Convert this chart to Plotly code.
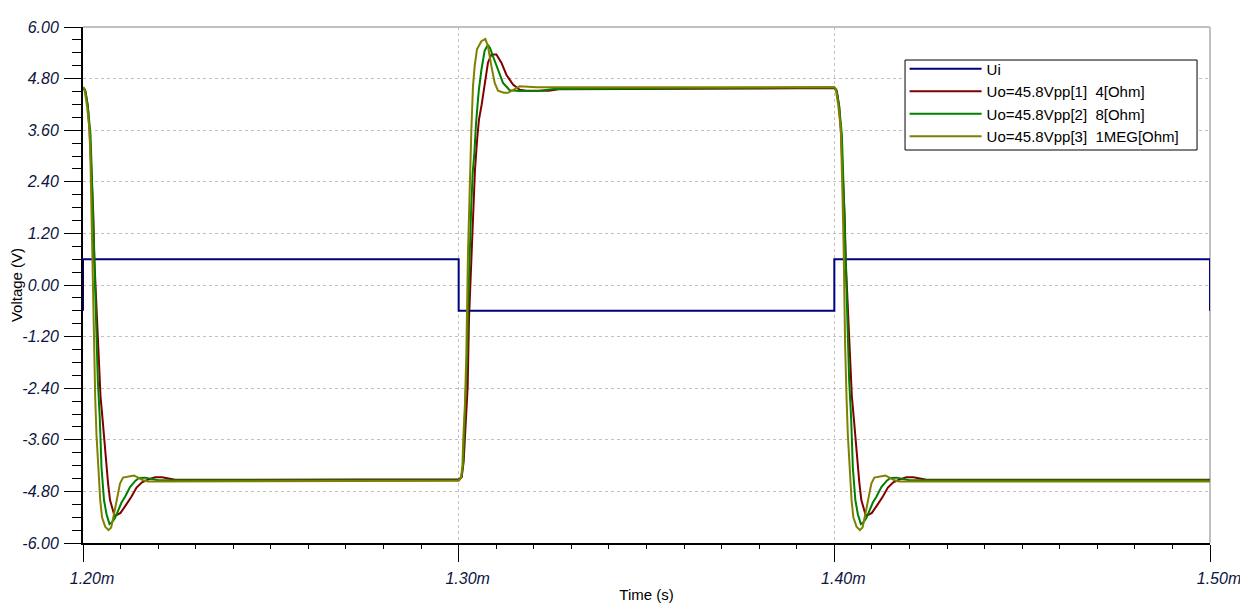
import plotly.graph_objects as go

# time axis in ms, edges of the input square wave
edge_fall_1 = 1.2
edge_rise = 1.3
edge_fall_2 = 1.4
t_end = 1.5

# input signal
ui_t = [1.2, 1.2, 1.3, 1.3, 1.4, 1.4, 1.5, 1.5]
ui_v = [-0.6, 0.6, 0.6, -0.6, -0.6, 0.6, 0.6, -0.6]

# output responses, time offsets in us after each edge
# [1] 4 Ohm (red)
r_fall_us = [0, 0.67, 1.28, 1.73, 2.18, 2.72, 3.06, 3.60, 4.13, 4.66, 5.19, 5.99, 6.66,
             7.19, 7.86, 8.39, 9.19, 9.99, 11.32, 12.92, 14.25, 15.71, 17.44, 19.17,
             21.04, 22.90, 24.50]
r_fall_v = [4.58, 4.50, 4.16, 3.60, 2.76, 1.67, 0.51, -0.65, -1.82, -2.59, -3.10, -3.95,
            -4.60, -5.00, -5.20, -5.37, -5.34, -5.30, -5.13, -4.92, -4.71, -4.59, -4.52,
            -4.47, -4.47, -4.51, -4.53]
r_rise_us = [0, 0.80, 1.33, 1.73, 2.13, 2.40, 2.74, 3.28, 3.81, 4.34, 4.93, 5.41, 6.13,
             6.92, 7.80, 8.71, 10.04, 11.37, 12.70, 14.46, 16.24, 18.03, 23.97, 26.63]
r_rise_v = [-4.52, -4.47, -4.10, -3.50, -2.80, -2.36, -0.81, 0.36, 1.52, 2.68, 3.40, 3.85,
            4.20, 4.62, 5.17, 5.36, 5.36, 5.17, 4.89, 4.66, 4.54, 4.52, 4.52, 4.55]

# [2] 8 Ohm (green)
g_fall_us = [0, 0.53, 1.28, 2.00, 2.34, 2.61, 2.88, 3.14, 3.41, 3.94, 4.47, 4.93, 5.59,
             6.26, 7.06, 7.72, 8.52, 9.45, 10.25, 11.24, 12.52, 13.98, 14.91, 16.51,
             18.64, 19.97]
g_fall_v = [4.60, 4.55, 4.16, 3.50, 2.60, 1.70, 0.90, 0.10, -0.65, -2.20, -3.10, -4.25,
            -5.00, -5.33, -5.56, -5.52, -5.42, -5.23, -5.06, -4.92, -4.70, -4.55, -4.49,
            -4.48, -4.52, -4.54]
g_rise_us = [0, 0.67, 1.15, 1.46, 1.86, 2.26, 2.53, 2.88, 3.33, 3.73, 4.18, 4.66, 5.33,
             6.05, 6.92, 7.80, 8.39, 9.13, 10.47, 11.80, 13.58, 16.24, 21.57, 25.30]
g_rise_v = [-4.54, -4.48, -4.20, -3.50, -2.70, -1.60, -0.50, 0.60, 1.80, 2.60, 3.07, 3.80,
            4.50, 5.00, 5.45, 5.59, 5.50, 5.32, 5.01, 4.70, 4.53, 4.51, 4.52, 4.56]

# [3] 1MEG Ohm (olive)
o_fall_us = [0, 0.40, 1.07, 1.73, 2.00, 2.18, 2.48, 2.66, 2.88, 3.25, 3.60, 4.13, 4.58,
             5.06, 5.91, 6.79, 7.51, 8.20, 9.05, 9.85, 10.65, 11.98, 13.58, 14.65,
             15.98, 17.31]
o_fall_v = [4.60, 4.55, 4.16, 3.61, 2.84, 2.06, 0.85, -0.30, -1.43, -2.62, -3.50, -4.30,
            -5.00, -5.40, -5.62, -5.70, -5.64, -5.35, -4.95, -4.62, -4.48, -4.45, -4.43,
            -4.48, -4.54, -4.57]
o_rise_us = [0, 0.61, 0.99, 1.25, 1.68, 2.05, 2.21, 2.48, 2.85, 3.12, 3.38, 3.81, 4.26,
             4.87, 6.05, 7.11, 7.80, 8.71, 9.59, 10.47, 11.98, 13.13, 14.03, 16.24, 20.77]
o_rise_v = [-4.55, -4.49, -4.22, -3.53, -2.75, -1.58, -0.42, 0.74, 1.91, 3.07, 3.61, 4.62,
            5.09, 5.48, 5.67, 5.72, 5.55, 5.09, 4.70, 4.52, 4.47, 4.47, 4.51, 4.62, 4.60]

y_ticks = [-6.0, -4.8, -3.6, -2.4, -1.2, 0.0, 1.2, 2.4, 3.6, 4.8, 6.0]
y_labels = ["-6.00", "-4.80", "-3.60", "-2.40", "-1.20", "0.00", "1.20", "2.40", "3.60", "4.80", "6.00"]
x_ticks = [1.2, 1.3, 1.4, 1.5]
x_labels = ["1.20m", "1.30m", "1.40m", "1.50m"]

names = ["Ui", "Uo=45.8Vpp[1]\u00a0 4[Ohm]", "Uo=45.8Vpp[2]\u00a0 8[Ohm]",
         "Uo=45.8Vpp[3]\u00a0 1MEG[Ohm]"]
colors = ["#000080", "#800000", "#008000", "#808000"]


def build(fall_us, fall_v, rise_us, rise_v):
    # falling edge at 1.20m, rising at 1.30m, falling again at 1.40m
    t = [edge_fall_1 + d / 1000 for d in fall_us]
    v = list(fall_v)
    t += [edge_rise + d / 1000 for d in rise_us]
    v += rise_v
    t += [edge_fall_2 + d / 1000 for d in fall_us]
    v += fall_v
    t.append(t_end)
    v.append(fall_v[-1])
    return t, v


fig = go.Figure()
fig.add_trace(go.Scatter(x=ui_t, y=ui_v, mode="lines", name=names[0],
                         line=dict(color=colors[0], width=2)))
for i, (fu, fv, ru, rv) in enumerate([(r_fall_us, r_fall_v, r_rise_us, r_rise_v),
                                       (g_fall_us, g_fall_v, g_rise_us, g_rise_v),
                                       (o_fall_us, o_fall_v, o_rise_us, o_rise_v)]):
    t, v = build(fu, fv, ru, rv)
    fig.add_trace(go.Scatter(x=t, y=v, mode="lines", name=names[i + 1],
                             line=dict(color=colors[i + 1], width=2)))

tick_font = dict(family="Liberation Sans, Arial, sans-serif", size=16, color="#0c1640", style="italic")

# page has an 8px body margin, so margins are shifted to keep the plot box in place
fig.update_layout(
    width=1248, height=616,
    margin=dict(l=75, r=46, t=19, b=81),
    plot_bgcolor="white", paper_bgcolor="white",
    font=dict(family="Liberation Sans, Arial, sans-serif", size=15, color="black"),
    showlegend=True,
    legend=dict(x=0.729, y=0.9506, xanchor="left", yanchor="top",
                bgcolor="rgba(0,0,0,0)", borderwidth=0,
                font=dict(size=15, color="black"), itemwidth=72,
                tracegroupgap=0),
    shapes=[
        # grey frame on top and right
        dict(type="line", xref="paper", yref="paper", x0=0, x1=1, y0=1, y1=1,
             line=dict(color="#c0c0c0", width=2), layer="below"),
        dict(type="line", xref="paper", yref="paper", x0=1, x1=1, y0=0, y1=1,
             line=dict(color="#c0c0c0", width=2), layer="below"),
        # legend box
        dict(type="rect", xref="paper", yref="paper", x0=0.7294, x1=0.9885,
             y0=0.7616, y1=0.936, fillcolor="white",
             line=dict(color="black", width=1), layer="above"),
    ],
)

fig.update_xaxes(
    range=[1.2, 1.5], tickmode="array", tickvals=x_ticks, ticktext=x_labels,
    ticks="outside", ticklen=17, tickcolor="black", tickwidth=1,
    tickfont=tick_font, ticklabelstandoff=3, ticklabelshift=9, automargin=False,
    showline=True, linecolor="black", linewidth=2,
    showgrid=True, gridcolor="#c0c0c0", griddash="3px,3px", gridwidth=1,
    zeroline=False,
    minor=dict(tickmode="linear", tick0=1.2, dtick=0.01, ticks="outside", ticklen=4,
               tickcolor="black", showgrid=False),
    title=dict(text="Time (s)", font=dict(size=15), standoff=3),
)
fig.update_yaxes(
    range=[-6, 6], tickmode="array", tickvals=y_ticks, ticktext=y_labels,
    ticks="outside", ticklen=17, tickcolor="black", tickwidth=1,
    tickfont=tick_font, ticklabelstandoff=2, automargin=False,
    showline=True, linecolor="black", linewidth=2,
    showgrid=True, gridcolor="#c0c0c0", griddash="3px,3px", gridwidth=1,
    zeroline=False,
    minor=dict(tickmode="linear", tick0=-6, dtick=0.3, ticks="outside", ticklen=9,
               tickcolor="black", showgrid=False),
    title=dict(text="Voltage (V)", font=dict(size=15), standoff=4),
)

fig.write_html("out.html")
